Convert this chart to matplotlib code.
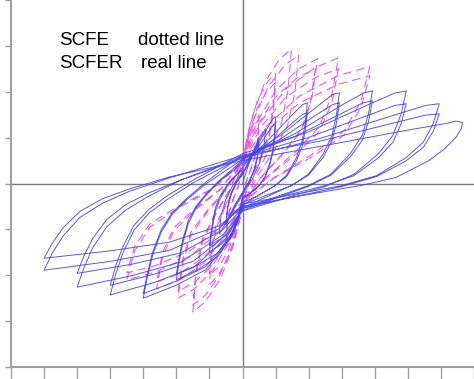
import matplotlib
matplotlib.use("Agg")
import matplotlib.pyplot as plt

# SCFER (real line) - hysteresis loops as (x, y) points
scfer_g0 = [(0, 0), (0.2, 0.45), (0.4, 0.8), (0.5, 1.0), (0.45, 0.6), (0.35, 0.3), (0.2, 0.05), (0, -0.2),
            (-0.2, -0.45), (-0.4, -0.75), (-0.5, -0.9), (-0.45, -0.55), (-0.35, -0.25), (-0.2, 0.0), (0, 0.2),
            (0.2, 0.45), (0.4, 0.75), (0.5, 0.9), (0.45, 0.55), (0.35, 0.27), (0.2, 0.03), (0, -0.2),
            (-0.2, -0.43), (-0.4, -0.7), (-0.5, -0.85), (-0.45, -0.5), (-0.35, -0.22), (-0.2, 0.02), (0, 0.2)]
scfer_g0b = [(0, 0.2), (0.25, 0.6), (0.5, 0.95), (0.7, 1.2), (0.65, 0.8), (0.52, 0.45), (0.3, 0.1), (0, -0.25),
             (-0.25, -0.55), (-0.5, -0.85), (-0.7, -1.1), (-0.65, -0.7), (-0.52, -0.38), (-0.3, -0.05), (0, 0.25)]
scfer_g1 = [(0, 0.2), (0.4, 0.77), (0.77, 1.23), (0.93, 1.42), (1.0, 1.45),
            (0.97, 1.09), (0.92, 0.75), (0.83, 0.46), (0.68, 0.15), (0.5, -0.05), (0.22, -0.22), (0, -0.35),
            (-0.12, -0.75), (-0.37, -1.14), (-0.67, -1.34), (-1.0, -1.5),
            (-0.96, -1.22), (-0.9, -0.93), (-0.82, -0.61), (-0.7, -0.37), (-0.57, -0.19), (-0.37, 0.04), (0, 0.35),
            (0.4, 0.71), (0.77, 1.11), (0.93, 1.27), (1.0, 1.3),
            (0.97, 0.98), (0.92, 0.68), (0.83, 0.42), (0.68, 0.13), (0.5, -0.05), (0.22, -0.22), (0, -0.3),
            (-0.12, -0.70), (-0.37, -1.04), (-0.67, -1.21), (-1.0, -1.35),
            (-0.96, -1.1), (-0.9, -0.82), (-0.82, -0.53), (-0.7, -0.31), (-0.57, -0.14), (-0.37, 0.06), (0, 0.3)]
scfer_g2 = [(0, 0.4), (0.78, 0.95), (1.51, 1.50), (1.82, 1.72), (1.96, 1.76),
            (1.90, 1.32), (1.80, 0.92), (1.63, 0.56), (1.33, 0.18), (0.98, -0.05), (0.43, -0.28), (0, -0.42),
            (-0.24, -1.03), (-0.74, -1.59), (-1.34, -1.87), (-2.0, -2.1),
            (-1.92, -1.72), (-1.81, -1.31), (-1.64, -0.88), (-1.41, -0.54), (-1.14, -0.29), (-0.74, 0.02), (0, 0.45),
            (0.78, 0.86), (1.51, 1.32), (1.82, 1.51), (1.96, 1.54),
            (1.90, 1.16), (1.80, 0.80), (1.63, 0.49), (1.33, 0.15), (0.98, -0.05), (0.43, -0.28), (0, -0.48),
            (-0.24, -0.99), (-0.74, -1.51), (-1.34, -1.77), (-2.0, -1.98),
            (-1.92, -1.62), (-1.81, -1.23), (-1.64, -0.81), (-1.41, -0.50), (-1.14, -0.26), (-0.74, 0.04), (0, 0.5)]
scfer_g3 = [(0, 0.5), (1.17, 1.06), (2.26, 1.68), (2.72, 1.94), (2.93, 1.98),
            (2.84, 1.49), (2.70, 1.03), (2.43, 0.63), (1.99, 0.20), (1.47, -0.05), (0.64, -0.28), (0.05, -0.45),
            (-0.36, -1.2), (-1.11, -1.88), (-2.01, -2.22), (-3.0, -2.5),
            (-2.88, -2.05), (-2.72, -1.57), (-2.46, -1.06), (-2.12, -0.67), (-1.71, -0.37), (-1.11, -0.01), (0.05, 0.55),
            (1.17, 0.98), (2.26, 1.51), (2.72, 1.72), (2.93, 1.76),
            (2.84, 1.32), (2.70, 0.92), (2.43, 0.56), (1.99, 0.18), (1.47, -0.05), (0.64, -0.32), (-0.05, -0.55),
            (-0.36, -1.17), (-1.11, -1.81), (-2.01, -2.13), (-3.0, -2.4),
            (-2.88, -1.97), (-2.72, -1.50), (-2.46, -1.01), (-2.12, -0.63), (-1.71, -0.34), (-1.11, 0.03), (-0.05, 0.6)]
scfer_g4 = [(0, 0.55), (1.57, 1.08), (3.03, 1.72), (3.65, 1.97), (3.93, 2.02),
            (3.81, 1.52), (3.62, 1.05), (3.26, 0.65), (2.67, 0.20), (1.97, -0.05), (0.86, -0.33), (0, -0.55),
            (-0.48, -1.18), (-1.48, -1.83), (-2.68, -2.16), (-4.0, -2.43),
            (-3.84, -1.99), (-3.62, -1.52), (-3.28, -1.02), (-2.82, -0.64), (-2.28, -0.35), (-1.48, 0.02), (0.05, 0.6),
            (1.57, 1.02), (3.03, 1.54), (3.65, 1.76), (3.93, 1.80),
            (3.81, 1.35), (3.62, 0.94), (3.26, 0.58), (2.67, 0.18), (1.97, -0.07), (0.86, -0.36), (-0.05, -0.6),
            (-0.48, -1.12), (-1.48, -1.69), (-2.68, -1.98), (-4.0, -2.22),
            (-3.84, -1.81), (-3.62, -1.38), (-3.28, -0.91), (-2.82, -0.56), (-2.28, -0.27), (-1.48, 0.08), (0, 0.65)]
scfer_g5 = [(0, 0.65), (1.98, 1.12), (3.81, 1.72), (4.60, 1.97), (4.95, 2.02),
            (4.80, 1.52), (4.55, 1.05), (4.11, 0.65), (3.37, 0.20), (2.48, -0.07), (1.09, -0.36), (0, -0.6),
            (-0.6, -1.12), (-1.85, -1.71), (-3.35, -2.01), (-5.0, -2.26),
            (-4.8, -1.85), (-4.53, -1.40), (-4.1, -0.94), (-3.53, -0.58), (-2.85, -0.28), (-1.85, 0.08), (0.05, 0.6),
            (1.98, 1.0), (3.81, 1.49), (4.60, 1.70), (4.95, 1.74),
            (4.80, 1.31), (4.55, 0.90), (4.11, 0.56), (3.37, 0.17), (2.48, -0.05), (1.09, -0.3), (0.05, -0.5),
            (-0.6, -1.01), (-1.85, -1.51), (-3.35, -1.76), (-5.0, -1.96),
            (-4.8, -1.59), (-4.53, -1.20), (-4.1, -0.78), (-3.53, -0.46), (-2.85, -0.21), (-1.85, 0.08), (0, 0.55)]
scfer_g6 = [(0, 0.55), (2.38, 0.99), (4.58, 1.49), (5.53, 1.70), (5.95, 1.74),
            (5.77, 1.31), (5.47, 0.90), (4.94, 0.56), (4.05, 0.17), (2.98, -0.05), (1.31, -0.27), (0, -0.45),
            (-0.72, -0.99), (-2.22, -1.46), (-4.02, -1.70), (-6.0, -1.89),
            (-5.76, -1.53), (-5.43, -1.15), (-4.92, -0.74), (-4.23, -0.43), (-3.42, -0.17), (-2.22, 0.12), (-0.05, 0.6),
            (2.38, 0.93), (4.58, 1.32), (5.53, 1.49), (5.95, 1.52),
            (5.77, 1.14), (5.47, 0.79), (4.94, 0.49), (4.05, 0.15), (2.98, -0.07), (1.31, -0.33), (-0.05, -0.55),
            (-0.72, -0.93), (-2.22, -1.28), (-4.02, -1.47), (-6.0, -1.63),
            (-5.76, -1.31), (-5.43, -0.97), (-4.92, -0.61), (-4.23, -0.33), (-3.42, -0.12), (-2.22, 0.14), (0, 0.5),
            (2.66, 0.85), (5.12, 1.18), (6.18, 1.31), (6.45, 1.36), (6.65, 1.33),
            (6.62, 1.2), (6.45, 1.0), (6.1, 0.75), (5.64, 0.5), (4.64, 0.13), (3.6, -0.04), (1.5, -0.3), (0, -0.5),
            (-0.4, -0.75)]

# SCFE (dotted line)
scfe_g1 = [(0, 0.3), (0.1, 0.75), (0.23, 1.13), (0.38, 1.38), (0.5, 1.5),
           (0.47, 1.05), (0.4, 0.68), (0.28, 0.38), (0.13, 0.08), (0, -0.28), (-0.1, -0.7), (-0.23, -1.05),
           (-0.38, -1.29), (-0.5, -1.4),
           (-0.47, -0.98), (-0.4, -0.63), (-0.28, -0.35), (-0.13, -0.07), (0, 0.28), (0.1, 0.7), (0.23, 1.05),
           (0.38, 1.29), (0.5, 1.4),
           (0.47, 0.98), (0.4, 0.63), (0.28, 0.35), (0.13, 0.07), (0, -0.26), (-0.1, -0.65), (-0.23, -0.98),
           (-0.38, -1.2), (-0.5, -1.3),
           (-0.47, -0.91), (-0.4, -0.59), (-0.28, -0.33), (-0.13, -0.07), (0, 0.3)]
scfe_g2 = [(0, 0.48), (0.2, 1.2), (0.45, 1.8), (0.75, 2.21), (1.0, 2.4),
           (0.93, 1.68), (0.8, 1.08), (0.55, 0.6), (0.25, 0.12), (0, -0.44), (-0.2, -1.1), (-0.45, -1.65),
           (-0.75, -2.02), (-1.0, -2.2),
           (-0.93, -1.54), (-0.8, -0.99), (-0.55, -0.55), (-0.25, -0.11), (0, 0.44), (0.2, 1.1), (0.45, 1.65),
           (0.75, 2.02), (1.0, 2.2),
           (0.93, 1.54), (0.8, 0.99), (0.55, 0.55), (0.25, 0.11), (0, -0.4), (-0.2, -1.0), (-0.45, -1.5),
           (-0.75, -1.84), (-1.0, -2.0),
           (-0.93, -1.4), (-0.8, -0.9), (-0.55, -0.5), (-0.25, -0.1), (0, 0.48)]
scfe_g3 = [(0, 0.59), (0.3, 1.47), (0.67, 2.2), (1.11, 2.7), (1.48, 2.93),
           (1.38, 2.05), (1.18, 1.32), (0.81, 0.73), (0.37, 0.15), (0, -0.56), (-0.3, -1.4), (-0.68, -2.1),
           (-1.13, -2.58), (-1.5, -2.8),
           (-1.4, -1.96), (-1.2, -1.26), (-0.83, -0.7), (-0.38, -0.14), (0, 0.56), (0.34, 1.4), (0.77, 2.1),
           (1.28, 2.58), (1.7, 2.8),
           (1.58, 1.96), (1.36, 1.26), (0.94, 0.7), (0.43, 0.14), (0, -0.53), (-0.3, -1.33), (-0.68, -1.99),
           (-1.13, -2.44), (-1.5, -2.65),
           (-1.4, -1.86), (-1.2, -1.19), (-0.83, -0.66), (-0.38, -0.13), (0, 0.56)]
scfe_g4 = [(0, 0.54), (0.45, 1.36), (1.02, 2.04), (1.7, 2.5), (2.27, 2.72),
           (2.11, 1.9), (1.82, 1.22), (1.25, 0.68), (0.57, 0.14), (0, -0.5), (-0.39, -1.25), (-0.88, -1.88),
           (-1.46, -2.3), (-1.95, -2.5),
           (-1.81, -1.75), (-1.56, -1.13), (-1.07, -0.63), (-0.49, -0.13), (0, 0.5), (0.44, 1.25), (0.99, 1.88),
           (1.65, 2.3), (2.2, 2.5),
           (2.05, 1.75), (1.76, 1.13), (1.21, 0.63), (0.55, 0.13), (0, -0.47), (-0.39, -1.18), (-0.88, -1.76),
           (-1.46, -2.16), (-1.95, -2.35),
           (-1.81, -1.65), (-1.56, -1.06), (-1.07, -0.59), (-0.49, -0.12), (0, 0.5)]
scfe_g5 = [(0, 0.55), (0.58, 1.37), (1.31, 2.06), (2.18, 2.52), (2.9, 2.74),
           (2.7, 1.92), (2.32, 1.23), (1.6, 0.69), (0.73, 0.14), (0, -0.46), (-0.52, -1.15), (-1.17, -1.73),
           (-1.95, -2.12), (-2.6, -2.3),
           (-2.42, -1.61), (-2.08, -1.04), (-1.43, -0.58), (-0.65, -0.12), (0, 0.5), (0.58, 1.25), (1.31, 1.88),
           (2.18, 2.3), (2.9, 2.5),
           (2.7, 1.75), (2.32, 1.13), (1.6, 0.63), (0.73, 0.13), (0, -0.43), (-0.52, -1.08), (-1.17, -1.61),
           (-1.95, -1.98), (-2.6, -2.15),
           (-2.42, -1.51), (-2.08, -0.97), (-1.43, -0.54), (-0.65, -0.11), (0, 0.5)]
scfe_g6 = [(0, 0.51), (0.77, 1.28), (1.73, 1.91), (2.89, 2.35), (3.85, 2.55),
           (3.58, 1.79), (3.08, 1.15), (2.12, 0.64), (0.96, 0.13), (0, -0.42), (-0.7, -1.05), (-1.58, -1.58),
           (-2.63, -1.93), (-3.5, -2.1),
           (-3.26, -1.47), (-2.8, -0.95), (-1.93, -0.53), (-0.88, -0.11), (0, 0.47), (0.77, 1.18), (1.73, 1.76),
           (2.89, 2.16), (3.85, 2.35),
           (3.58, 1.65), (3.08, 1.06), (2.12, 0.59), (0.96, 0.12), (0, -0.39), (-0.7, -0.98), (-1.58, -1.46),
           (-2.63, -1.79), (-3.5, -1.95),
           (-3.26, -1.37), (-2.8, -0.88), (-1.93, -0.49), (-0.88, -0.1), (0, 0.51)]

scfe_loops = [scfe_g1, scfe_g2, scfe_g3, scfe_g4, scfe_g5, scfe_g6]
scfer_loops = [scfer_g0, scfer_g0b, scfer_g1, scfer_g2, scfer_g3, scfer_g4, scfer_g5, scfer_g6]

fig = plt.figure(figsize=(4.74, 3.79), dpi=100)
ax = fig.add_axes([11 / 474, 12 / 379, 463 / 474, 367 / 379])

for loop in scfe_loops:
    xs, ys = zip(*loop)
    ax.plot(xs, ys, color='#f050f0', lw=0.75, linestyle=(0, (8, 5)))

for loop in scfer_loops:
    xs, ys = zip(*loop)
    ax.plot(xs, ys, color='#4646e6', lw=0.7, alpha=0.9)

ax.axhline(0, color='#7a7a7a', lw=1.0, zorder=0)
ax.axvline(0, color='#7a7a7a', lw=1.0, zorder=0)

ax.set_xlim(-7, 7)
ax.set_ylim(-4, 4)
ax.set_xticks(range(-7, 8))
ax.set_yticks(range(-4, 5))
ax.set_xticklabels([])
ax.set_yticklabels([])
ax.tick_params(axis='x', direction='out', length=9, width=1, color='#a0a0a0')
ax.tick_params(axis='y', direction='out', length=4, width=1, color='#a0a0a0')
for s in ['top', 'right']:
    ax.spines[s].set_visible(False)
for s in ['left', 'bottom']:
    ax.spines[s].set_color('#a0a0a0')
    ax.spines[s].set_linewidth(1.5)

font = dict(family='Liberation Sans', fontsize=13.5, color='black', va='baseline')
fig.text(59 / 474, 1 - 45 / 379, 'SCFE', **font)
fig.text(138 / 474, 1 - 45 / 379, 'dotted line', **font)
fig.text(59 / 474, 1 - 68 / 379, 'SCFER', **font)
fig.text(141 / 474, 1 - 68 / 379, 'real line', **font)

fig.savefig('out.png', dpi=100)
